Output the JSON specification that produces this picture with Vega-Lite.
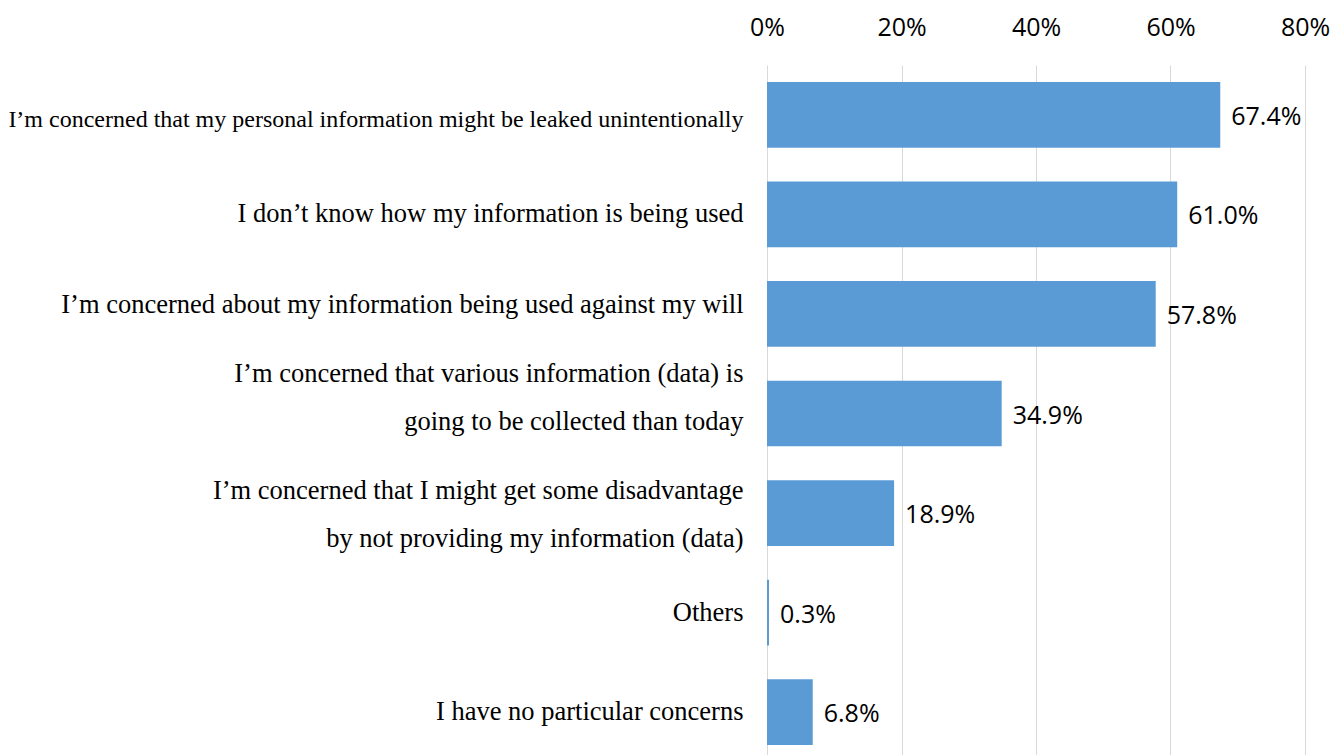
{
  "$schema": "https://vega.github.io/schema/vega-lite/v6.json",
  "autosize": {"type": "none"},
  "padding": {"left": 767, "top": 65, "right": 28, "bottom": 0},
  "width": 538,
  "height": 697,
  "background": "white",
  "config": {"view": {"stroke": null}},
  "data": {
    "values": [
      {"item": "I’m concerned that my personal information might be leaked unintentionally", "share": 0.674},
      {"item": "I don’t know how my information is being used", "share": 0.610},
      {"item": "I’m concerned about my information being used against my will", "share": 0.578},
      {"item": "I’m concerned that various information (data) is|going to be collected than today", "share": 0.349},
      {"item": "I’m concerned that I might get some disadvantage|by not providing my information (data)", "share": 0.189},
      {"item": "Others", "share": 0.003},
      {"item": "I have no particular concerns", "share": 0.068}
    ]
  },
  "encoding": {
    "y": {
      "field": "item",
      "type": "nominal",
      "sort": null,
      "scale": {"paddingInner": 0.34, "paddingOuter": 0.17},
      "axis": {
        "title": null,
        "domain": false,
        "ticks": false,
        "labelPadding": 24,
        "labelFont": "Liberation Serif",
        "labelFontSize": {
          "condition": {"test": "indexof(datum.value, 'leaked') >= 0", "value": 24},
          "value": 26.5
        },
        "labelOffset": {
          "condition": [
            {"test": "indexof(datum.value, 'leaked') >= 0", "value": 5},
            {"test": "indexof(datum.value, 'against') >= 0", "value": -9},
            {"test": "indexof(datum.value, 'various') >= 0", "value": -40},
            {"test": "indexof(datum.value, 'disadvantage') >= 0", "value": -22}
          ],
          "value": 0
        },
        "labelColor": "#000000",
        "labelLimit": 800,
        "labelLineHeight": 48,
        "labelExpr": "split(datum.label, '|')"
      }
    },
    "x": {
      "field": "share",
      "type": "quantitative",
      "scale": {"domain": [0, 0.8]},
      "axis": {
        "title": null,
        "orient": "top",
        "values": [0, 0.2, 0.4, 0.6, 0.8],
        "format": ".0%",
        "domain": false,
        "ticks": false,
        "grid": true,
        "gridColor": "#D9D9D9",
        "gridWidth": 1,
        "labelFont": "Open Sans",
        "labelFontSize": 25,
        "labelColor": "#000000",
        "labelPadding": 25,
        "labelFlush": false
      }
    }
  },
  "layer": [
    {"mark": {"type": "bar", "color": "#5B9BD5"}},
    {
      "mark": {"type": "text", "align": "left", "baseline": "middle", "dx": 11, "dy": 2, "font": "Open Sans", "fontSize": 25, "color": "#000000"},
      "encoding": {"text": {"field": "share", "type": "quantitative", "format": ".1%"}}
    }
  ]
}
